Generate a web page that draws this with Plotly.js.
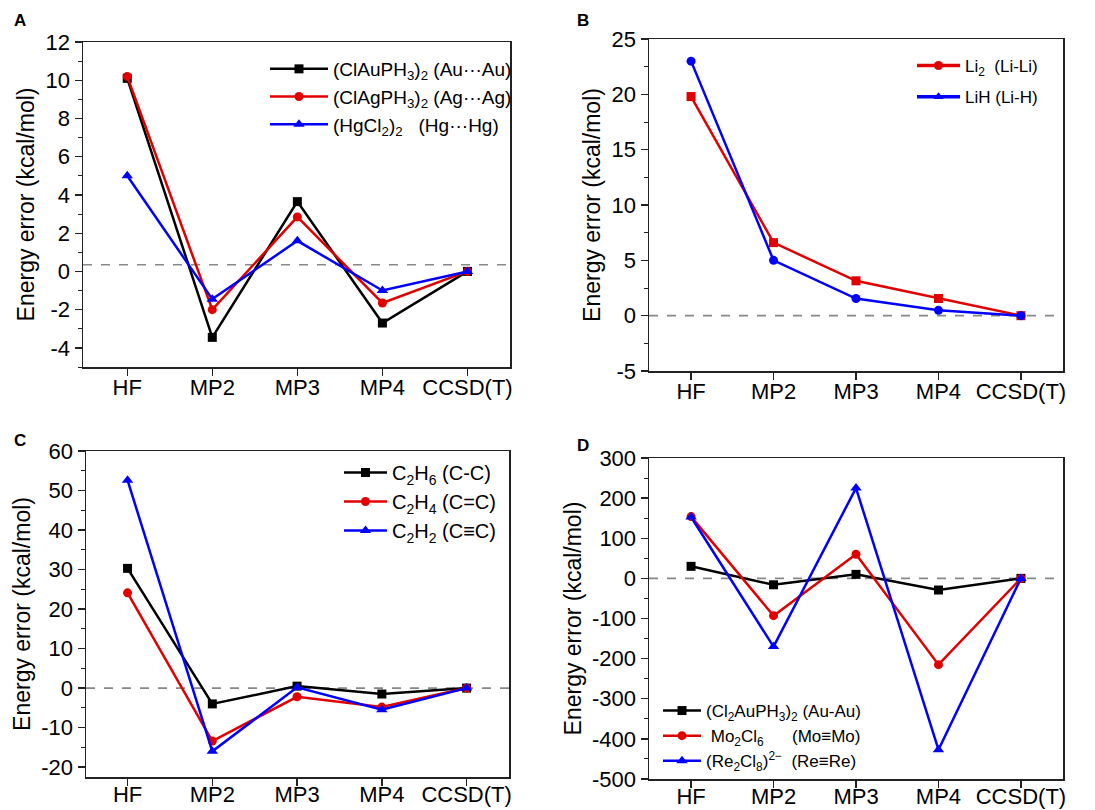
<!DOCTYPE html>
<html><head><meta charset="utf-8">
<script src="https://cdn.plot.ly/plotly-3.0.1.min.js"></script>
<style>body{margin:0;background:#fff}#chart{width:1095px;height:810px}</style>
</head><body><div id="chart"></div>
<script>
const methods = ["HF","MP2","MP3","MP4","CCSD(T)"];

// Panel A
const aAu = [10.1, -3.45, 3.65, -2.7, 0];
const aAg = [10.2, -2.0, 2.85, -1.65, 0];
const aHg = [5.0, -1.45, 1.6, -1.0, 0];
const aNames = ["(ClAuPH<sub>3</sub>)<sub>2</sub> (Au···Au)", "(ClAgPH<sub>3</sub>)<sub>2</sub> (Ag···Ag)", "(HgCl<sub>2</sub>)<sub>2</sub>\u00a0\u00a0\u00a0(Hg···Hg)"];
const aTicks = [-4, -2, 0, 2, 4, 6, 8, 10, 12];
const aRef = 0.35;

// Panel B
const bLi2 = [19.8, 6.6, 3.15, 1.55, 0];
const bLiH = [23.0, 5.0, 1.55, 0.48, 0];
const bNames = ["Li<sub>2</sub>\u00a0\u00a0(Li-Li)", "LiH (Li-H)"];
const bTicks = [-5, 0, 5, 10, 15, 20, 25];
const bRef = 0;

// Panel C
const cC2H6 = [30.3, -4.0, 0.5, -1.5, 0];
const cC2H4 = [24.1, -13.4, -2.2, -4.8, 0];
const cC2H2 = [52.6, -16.0, 0.2, -5.5, 0];
const cNames = ["C<sub>2</sub>H<sub>6</sub> (C-C)", "C<sub>2</sub>H<sub>4</sub> (C=C)", "C<sub>2</sub>H<sub>2</sub> (C≡C)"];
const cTicks = [-20, -10, 0, 10, 20, 30, 40, 50, 60];
const cRef = 0;

// Panel D
const dAu = [30, -16, 10, -29, 0];
const dMo = [154, -93, 60, -215, 0];
const dRe = [153, -170, 225, -427, 0];
const dNames = ["(Cl<sub>2</sub>AuPH<sub>3</sub>)<sub>2</sub> (Au-Au)", "\u00a0Mo<sub>2</sub>Cl<sub>6</sub>\u00a0\u00a0\u00a0\u00a0\u00a0\u00a0(Mo≡Mo)", "(Re<sub>2</sub>Cl<sub>8</sub>)<sup>2−</sup>\u00a0\u00a0(Re≡Re)"];
const dTicks = [-500, -400, -300, -200, -100, 0, 100, 200, 300];
const dRef = 0;

const BLACK = "#000000", RED = "#e00000", BLUE = "#0000ff";
const FONT = "Liberation Sans, Arial, sans-serif";

function tr(y, name, color, symbol, xa, ya, leg, showleg) {
  return {x: methods, y: y, name: name, type: "scatter", mode: "lines+markers",
    line: {color: color, width: 2.5},
    marker: {color: color, symbol: symbol, size: symbol === "triangle-up" ? 10 : 9},
    xaxis: xa, yaxis: ya, legend: leg, legendgroup: leg + name, showlegend: showleg !== false, cliponaxis: false};
}
function legTr(name, color, symbol, xa, ya, leg) {
  return {x: [null], y: [null], name: name, type: "scatter", mode: "lines+markers",
    line: {color: color, width: 3.5},
    marker: {color: color, symbol: symbol, size: 9},
    xaxis: xa, yaxis: ya, legend: leg, legendgroup: leg + name, showlegend: true};
}

const data = [
  tr(aAu, aNames[0], BLACK, "square", "x", "y", "legend"),
  tr(aAg, aNames[1], RED, "circle", "x", "y", "legend"),
  tr(aHg, aNames[2], BLUE, "triangle-up", "x", "y", "legend"),
  tr(bLi2, bNames[0], RED, "square", "x2", "y2", "legend2", false),
  tr(bLiH, bNames[1], BLUE, "circle", "x2", "y2", "legend2", false),
  legTr(bNames[0], RED, "circle", "x2", "y2", "legend2"),
  legTr(bNames[1], BLUE, "triangle-up", "x2", "y2", "legend2"),
  tr(cC2H6, cNames[0], BLACK, "square", "x3", "y3", "legend3"),
  tr(cC2H4, cNames[1], RED, "circle", "x3", "y3", "legend3"),
  tr(cC2H2, cNames[2], BLUE, "triangle-up", "x3", "y3", "legend3"),
  tr(dAu, dNames[0], BLACK, "square", "x4", "y4", "legend4"),
  tr(dMo, dNames[1], RED, "circle", "x4", "y4", "legend4"),
  tr(dRe, dNames[2], BLUE, "triangle-up", "x4", "y4", "legend4")
];

function xax(dom, anchor, range, standoff) {
  return {domain: dom, anchor: anchor, type: "category", range: range,
    showline: true, linecolor: "#222", linewidth: 1.5, mirror: true,
    ticks: "outside", ticklen: 7, tickwidth: 1.3, tickcolor: "#222",
    ticklabelstandoff: standoff,
    showgrid: false, zeroline: false,
    tickfont: {family: FONT, size: 22, color: "#000"}};
}
function yax(dom, anchor, range, ticks, minor) {
  return {domain: dom, anchor: anchor, range: range,
    tickmode: "array", tickvals: ticks, ticktext: ticks.map(String),
    showline: true, linecolor: "#222", linewidth: 1.5, mirror: true,
    ticks: "outside", ticklen: 7, tickwidth: 1.3, tickcolor: "#222",
    minor: {tickmode: "linear", dtick: minor, tick0: 0, ticks: "outside", ticklen: 4, tickwidth: 1, tickcolor: "#222", showgrid: false},
    showgrid: false, zeroline: false,
    tickfont: {family: FONT, size: 22, color: "#000"},
    title: {text: "Energy error (kcal/mol)", font: {family: FONT, size: 23, color: "#000"}, standoff: 4}};
}
function leg(x, top, size, iw, gap) {
  return {x: x / 1095, y: (810 - top) / 810, xanchor: "left", yanchor: "top", bgcolor: "rgba(0,0,0,0)",
    font: {family: FONT, size: size, color: "#000"}, traceorder: "grouped", tracegroupgap: gap, itemwidth: iw};
}
function dash(xa, ya, y) {
  return {type: "line", xref: xa + " domain", yref: ya, x0: 0, x1: 1, y0: y, y1: y,
    line: {color: "#888", width: 1.6, dash: "dash"}, layer: "below"};
}
function lab(t, x, y) {
  return {text: "<b>" + t + "</b>", xref: "paper", yref: "paper", x: x, y: y,
    xanchor: "left", yanchor: "middle", showarrow: false,
    font: {family: FONT, size: 17, color: "#000"}};
}

const W = 1095, H = 810;
const dx = (a, b) => [a / W, b / W];
const dy = (top, bot) => [(H - bot) / H, (H - top) / H];

const layout = {
  width: W, height: H, margin: {l: 0, r: 0, t: 0, b: 0},
  paper_bgcolor: "#fff", plot_bgcolor: "#fff",
  xaxis: xax(dx(83, 510), "y", [-0.52, 4.5], -7),
  yaxis: yax(dy(42, 367), "x", [-5, 12], aTicks, 1),
  xaxis2: xax(dx(649, 1063), "y2", [-0.51, 4.51], -7),
  yaxis2: yax(dy(39, 371), "x2", [-5, 25], bTicks, 2.5),
  xaxis3: xax(dx(86, 509), "y3", [-0.49, 4.5], -10),
  yaxis3: yax(dy(451, 777), "x3", [-22.5, 60], cTicks, 5),
  xaxis4: xax(dx(649, 1063), "y4", [-0.51, 4.51], -10),
  yaxis4: yax(dy(458, 779), "x4", [-500, 300], dTicks, 50),
  legend: leg(265, 50, 19, 58, 0),
  legend2: leg(912, 48, 17, 43, 6),
  legend3: leg(339, 453, 20, 43, 0),
  legend4: leg(658, 693, 17, 38, 0),
  shapes: [dash("x", "y", aRef), dash("x2", "y2", bRef), dash("x3", "y3", cRef), dash("x4", "y4", dRef)],
  annotations: [lab("A", 12 / W, (H - 20) / H), lab("B", 575 / W, (H - 20) / H),
                lab("C", 12 / W, (H - 440) / H), lab("D", 575 / W, (H - 445) / H)],
  showlegend: true
};

Plotly.newPlot("chart", data, layout, {displayModeBar: false, staticPlot: true});
</script>
</body></html>
